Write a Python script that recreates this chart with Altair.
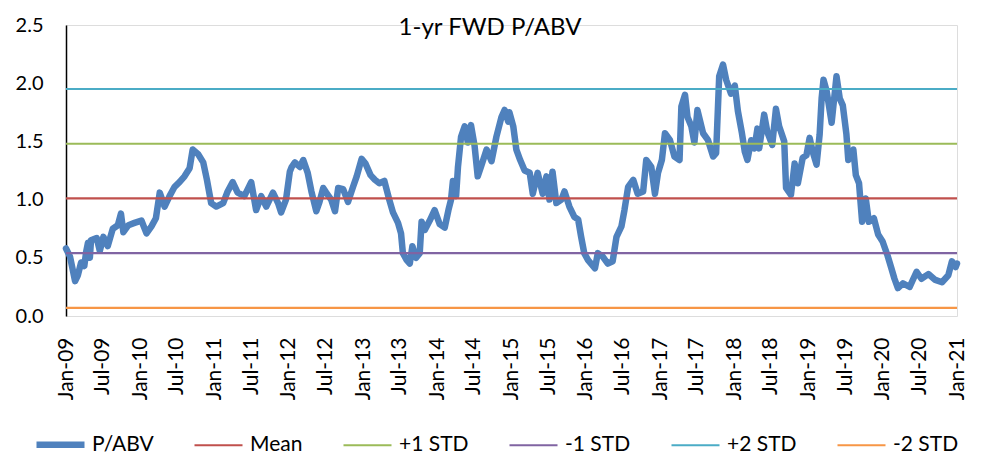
import altair as alt
import pandas as pd

TITLE = "1-yr FWD P/ABV"

# months elapsed since Jan-2009 and P/ABV value
months = [0.0, 0.65, 1.45, 1.9, 2.5, 3.0, 3.3, 3.6, 3.9, 4.1, 5.0, 5.5, 6.1, 6.8, 7.6, 8.4, 8.9, 9.3,
          10.1, 11.1, 12.2, 13.0, 13.8, 14.6, 15.2, 16.0, 16.8, 17.6, 18.4, 19.2, 20.0, 20.5, 21.4,
          22.2, 22.8, 23.5, 24.3, 25.4, 26.2, 27.0, 27.8, 28.9, 30.0, 30.8, 31.6, 32.4, 33.5, 34.3,
          34.8, 35.6, 36.2, 36.5, 37.0, 37.8, 38.4, 39.1, 39.7, 40.5, 41.0, 41.6, 42.1, 42.9, 43.5,
          44.0, 44.8, 45.6, 46.4, 47.0, 47.8, 48.4, 49.2, 49.9, 50.7, 51.5, 52.3, 52.9, 53.7, 54.2,
          54.5, 55.1, 55.6, 56.0, 56.6, 57.2, 57.5, 58.0, 58.8, 59.6, 60.4, 61.2, 61.8, 62.3, 62.6,
          63.1, 63.4, 63.9, 64.5, 65.0, 65.5, 66.1, 66.6, 67.1, 68.0, 68.8, 69.6, 70.4, 70.9, 71.5,
          71.7, 72.3, 72.8, 73.4, 74.2, 75.0, 75.5, 76.3, 77.1, 77.7, 78.2, 78.7, 79.3, 80.1, 80.6,
          81.4, 82.2, 82.8, 83.3, 83.8, 84.4, 85.5, 86.0, 86.8, 87.6, 88.4, 89.0, 89.8, 90.3, 90.9,
          91.7, 92.4, 93.3, 93.8, 94.6, 95.2, 95.7, 96.3, 96.8, 97.6, 98.4, 99.2, 99.5, 100.1, 100.5,
          101.1, 101.6, 102.1, 103.0, 103.8, 104.6, 105.1, 105.6, 106.2, 106.7, 107.5, 108.1, 108.6,
          109.2, 109.7, 110.2, 110.8, 111.3, 111.8, 112.1, 112.9, 113.4, 114.2, 114.8, 115.3, 116.1,
          116.4, 117.2, 117.8, 118.3, 119.1, 119.7, 120.2, 120.7, 121.3, 121.8, 122.2, 122.5, 123.0,
          123.8, 124.6, 125.1, 125.6, 126.2, 126.5, 127.3, 127.7, 128.2, 128.7, 129.3, 129.8, 130.6,
          131.3, 132.0, 132.8, 133.4, 133.9, 134.5, 135.3, 136.4, 137.5, 138.3, 139.4, 140.5, 141.6,
          142.6, 143.2, 143.8, 144.0]
pabv = [0.58, 0.51, 0.30, 0.35, 0.46, 0.43, 0.55, 0.63, 0.50, 0.65, 0.67, 0.56, 0.68, 0.60, 0.75, 0.78, 0.88, 0.72,
        0.78, 0.80, 0.82, 0.71, 0.77, 0.84, 1.06, 0.94, 1.03, 1.11, 1.15, 1.20, 1.27, 1.43, 1.39,
        1.32, 1.17, 0.97, 0.94, 0.97, 1.07, 1.15, 1.06, 1.03, 1.15, 0.91, 1.03, 0.94, 1.06, 0.97,
        0.89, 1.00, 1.24, 1.28, 1.32, 1.28, 1.34, 1.23, 1.07, 0.90, 0.98, 1.10, 1.06, 1.00, 0.90,
        1.10, 1.09, 0.98, 1.11, 1.20, 1.35, 1.31, 1.21, 1.17, 1.14, 1.16, 1.00, 0.89, 0.80, 0.71,
        0.54, 0.48, 0.45, 0.60, 0.50, 0.54, 0.81, 0.74, 0.82, 0.91, 0.79, 0.76, 0.91, 1.00, 1.16,
        1.03, 1.28, 1.54, 1.63, 1.49, 1.64, 1.46, 1.20, 1.28, 1.43, 1.33, 1.54, 1.71, 1.77, 1.67,
        1.75, 1.63, 1.43, 1.34, 1.25, 1.23, 1.05, 1.23, 1.05, 1.20, 1.00, 1.24, 0.97, 1.00, 1.07,
        0.94, 0.85, 0.83, 0.68, 0.54, 0.48, 0.41, 0.54, 0.51, 0.45, 0.47, 0.68, 0.77, 0.91, 1.11,
        1.17, 1.05, 1.07, 1.34, 1.28, 1.05, 1.23, 1.34, 1.57, 1.51, 1.37, 1.34, 1.80, 1.90, 1.71,
        1.63, 1.49, 1.77, 1.57, 1.51, 1.37, 1.40, 2.06, 2.16, 2.03, 1.91, 1.98, 1.76,
        1.58, 1.41, 1.34, 1.51, 1.44, 1.61, 1.44, 1.73, 1.58, 1.47, 1.78, 1.63, 1.50,
        1.10, 1.04, 1.31, 1.14, 1.36, 1.38, 1.53, 1.41, 1.30, 1.56, 1.87, 2.03, 1.93,
        1.66, 2.06, 1.87, 1.81, 1.56, 1.34, 1.43, 1.21, 1.14, 0.81, 1.01, 0.81, 0.84,
        0.70, 0.64, 0.52, 0.41, 0.32, 0.24, 0.28, 0.25, 0.38, 0.32, 0.36, 0.31, 0.29,
        0.35, 0.47, 0.42, 0.45]

series_names = ["P/ABV", "Mean", "+1 STD", "-1 STD", "+2 STD", "-2 STD"]
series_colors = ["#4F81BD", "#C0504D", "#9BBB59", "#8064A2", "#4BACC6", "#F79646"]
series_widths = [6.5, 2.2, 2.2, 2.2, 2.2, 2.2]
band_names = ["Mean", "+1 STD", "-1 STD", "+2 STD", "-2 STD"]
band_levels = [1.01, 1.48, 0.54, 1.95, 0.07]

y_ticks = [0.0, 0.5, 1.0, 1.5, 2.0, 2.5]
x_tick_years = list(range(2009, 2022))


def to_date(m):
    whole = int(m)
    y = 2009 + whole // 12
    mo = whole % 12 + 1
    ts = pd.Timestamp(year=y, month=mo, day=1) + pd.Timedelta(days=(m - whole) * 30.4)
    return ts.strftime("%Y-%m-%dT%H:%M:%S")


line_df = pd.DataFrame({
    "date": [to_date(m) for m in months],
    "value": pabv,
    "series": "P/ABV",
})
band_df = pd.DataFrame({"series": band_names, "value": band_levels})
title_df = pd.DataFrame({"t": [TITLE]})

FONT = "Lato"

x_values = []
for yr in x_tick_years:
    x_values.append(alt.DateTime(year=yr, month=1, date=1))
    if yr < 2021:
        x_values.append(alt.DateTime(year=yr, month=7, date=1))

color_scale = alt.Scale(domain=series_names, range=series_colors)
width_scale = alt.Scale(type="ordinal", domain=series_names, range=series_widths)
y_scale = alt.Scale(domain=[0, 2.5], nice=False, zero=False)

legend = alt.Legend(
    title=None, orient="none", legendX=-33, legendY=392, direction="horizontal",
    columns=6, symbolType="stroke", symbolSize=2304, labelFontSize=21, labelFont=FONT,
    labelColor="#000000", columnPadding=36, labelOffset=4, padding=0,
)

line = alt.Chart(line_df).mark_line(strokeJoin="round", strokeCap="round").encode(
    x=alt.X("date:T",
            scale=alt.Scale(domain=[alt.DateTime(year=2009, month=1, date=1),
                                    alt.DateTime(year=2021, month=1, date=1)], nice=False),
            axis=alt.Axis(values=x_values, format="%b-%y", labelAngle=-90, title=None,
                          domain=False, ticks=False, grid=False, labelFontSize=21,
                          labelFont=FONT, labelColor="#000000", labelPadding=21,
                          labelOverlap=False, labelBound=False, labelFlush=False)),
    y=alt.Y("value:Q", scale=y_scale,
            axis=alt.Axis(values=y_ticks, format=".1f", title=None, grid=False, ticks=False,
                          domainColor="#000000", domainWidth=1.5, labelFontSize=20,
                          labelFont=FONT, labelColor="#000000", labelPadding=23)),
    color=alt.Color("series:N", scale=color_scale, legend=legend),
    strokeWidth=alt.StrokeWidth("series:N", scale=width_scale, legend=legend),
)

bands = alt.Chart(band_df).mark_rule().encode(
    y=alt.Y("value:Q", scale=y_scale),
    color=alt.Color("series:N", scale=color_scale, legend=legend),
    strokeWidth=alt.StrokeWidth("series:N", scale=width_scale, legend=legend),
)

title = alt.Chart(title_df).mark_text(
    font=FONT, fontSize=24, color="#000000", align="center", baseline="middle"
).encode(x=alt.value(424), y=alt.value(3), text="t:N")

chart = alt.layer(line, bands, title).properties(
    width=891, height=291,
    autosize=alt.AutoSizeParams(type="none"),
    padding={"left": 58, "top": 17, "right": 16, "bottom": 140},
).configure_view(stroke=None).configure(background="#ffffff")

chart.save("out.html", embed_options={"renderer": "svg", "actions": False})
